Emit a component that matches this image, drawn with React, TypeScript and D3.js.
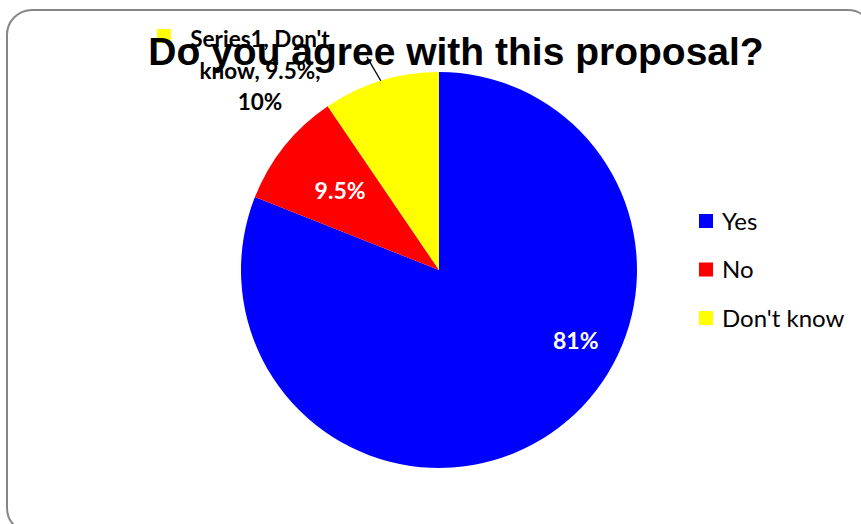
import React from "react";
import * as d3 from "d3";

const categories = ["Yes", "No", "Don't know"];
const values = [81, 9.5, 9.5];
const colors = ["#0000FF", "#FF0000", "#FFFF00"];
const insideLabels = ["81%", "9.5%", ""];
const outsideLabelLines = ["Series1, Don't", "know, 9.5%,", "10%"];
const title = "Do you agree with this proposal?";

const W = 861;
const H = 524;
const cx = 439;
const cy = 270;
const R = 198;

export default function App() {
  const pie = d3
    .pie<number>()
    .sort(null)
    .startAngle(0)
    .endAngle(2 * Math.PI)
    .value((d) => d);
  const arcs = pie(values);
  const arcGen = d3.arc<d3.PieArcDatum<number>>().innerRadius(0).outerRadius(R);

  // label placement (angle in degrees clockwise from top, radius in px)
  const labelPos = [
    { ang: 117.4, rad: 154 },
    { ang: null as number | null, rad: R * 0.64 },
  ];
  const polar = (angDeg: number, rad: number) => {
    const a = (angDeg * Math.PI) / 180;
    return [cx + rad * Math.sin(a), cy - rad * Math.cos(a)];
  };

  const yellow = arcs[2];
  const midY = ((yellow.startAngle + yellow.endAngle) / 2) * (180 / Math.PI);
  const [lx1, ly1] = polar(midY, R);
  const [lx2, ly2] = polar(midY - 1.6, R + 27);

  const fontLabel = "Lato, 'Open Sans', sans-serif";

  return (
    <svg
      width={W}
      height={H}
      style={{ position: "absolute", left: 0, top: 0, background: "#fff" }}
    >
      <rect
        x={7}
        y={10}
        width={866}
        height={523}
        rx={25}
        ry={25}
        fill="#fff"
        stroke="#868686"
        strokeWidth={2}
      />
      <g>
        {arcs.map((a, i) => (
          <path
            key={categories[i]}
            d={arcGen(a) || ""}
            transform={`translate(${cx},${cy})`}
            fill={colors[i]}
          />
        ))}
      </g>
      {arcs.map((a, i) => {
        if (!insideLabels[i]) return null;
        const lp = labelPos[i];
        const mid = ((a.startAngle + a.endAngle) / 2) * (180 / Math.PI);
        const [x, y] = polar(lp.ang == null ? mid : lp.ang, lp.rad);
        return (
          <text
            key={"l" + i}
            x={x}
            y={y + 8}
            textAnchor="middle"
            fontFamily={fontLabel}
            fontWeight="bold"
            fontSize={23}
            fill="#fff"
          >
            {insideLabels[i]}
          </text>
        );
      })}
      <line x1={lx1} y1={ly1} x2={lx2} y2={ly2} stroke="#000" strokeWidth={1.3} />
      <rect x={157} y={29} width={14} height={14} fill={colors[2]} />
      {outsideLabelLines.map((t, i) => (
        <text
          key={"o" + i}
          x={260}
          y={47 + i * 31.5}
          textAnchor="middle"
          fontFamily={fontLabel}
          fontWeight="bold"
          fontSize={22.5}
          fill="#000"
        >
          {t}
        </text>
      ))}
      <text
        x={456}
        y={65}
        textAnchor="middle"
        fontFamily="'Liberation Sans', Arial, sans-serif"
        fontWeight="bold"
        fontSize={39}
        fill="#000"
      >
        {title}
      </text>
      {categories.map((c, i) => (
        <g key={"lg" + i} transform={`translate(699,${214 + i * 48.5})`}>
          <rect x={0} y={0} width={14} height={14} fill={colors[i]} />
          <text
            x={23}
            y={15.5}
            fontFamily={fontLabel}
            fontSize={24}
            fill="#000"
          >
            {c}
          </text>
        </g>
      ))}
    </svg>
  );
}
